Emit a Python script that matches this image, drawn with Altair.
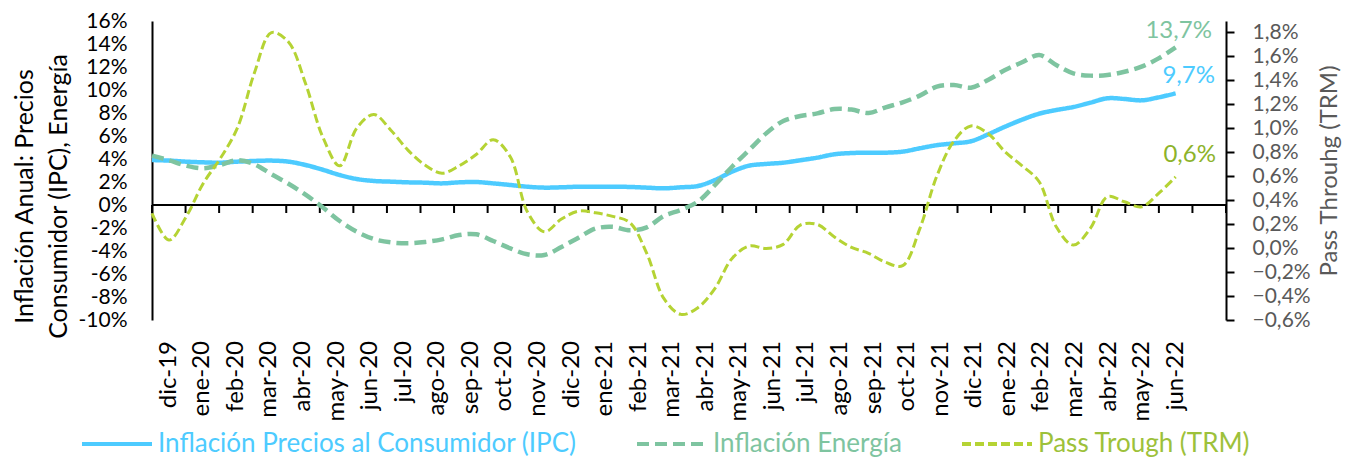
import altair as alt
import numpy as np
import pandas as pd

months = ['dic-19', 'ene-20', 'feb-20', 'mar-20', 'abr-20', 'may-20', 'jun-20', 'jul-20',
          'ago-20', 'sep-20', 'oct-20', 'nov-20', 'dic-20', 'ene-21', 'feb-21', 'mar-21',
          'abr-21', 'may-21', 'jun-21', 'jul-21', 'ago-21', 'sep-21', 'oct-21', 'nov-21',
          'dic-21', 'ene-22', 'feb-22', 'mar-22', 'abr-22', 'may-22', 'jun-22']

# half-month readings (%), left axis
ipc = [3.91, 3.86, 3.77, 3.71, 3.68, 3.77, 3.83, 3.86, 3.77, 3.48,
       3.07, 2.61, 2.26, 2.09, 2.03, 1.97, 1.94, 1.88, 1.97, 2.00,
       1.88, 1.74, 1.59, 1.51, 1.54, 1.59, 1.59, 1.59, 1.57, 1.51,
       1.45, 1.54, 1.65, 2.17, 2.90, 3.42, 3.57, 3.68, 3.89, 4.12,
       4.41, 4.52, 4.55, 4.55, 4.64, 4.93, 5.20, 5.36, 5.54, 6.14,
       6.81, 7.42, 7.94, 8.26, 8.52, 8.90, 9.28, 9.22, 9.10, 9.36,
       9.71]
energia = [4.29, 3.89, 3.42, 3.19, 3.48, 3.89, 3.54, 2.67, 1.85, 0.90,
           -0.20, -1.39, -2.32, -2.96, -3.25, -3.33, -3.22, -2.99, -2.61, -2.55,
           -3.13, -3.77, -4.29, -4.35, -3.65, -2.84, -2.05, -1.90, -2.20, -1.95,
           -0.95, -0.43, 0.29, 1.74, 3.33, 4.78, 6.23, 7.30, 7.74, 7.97,
           8.35, 8.30, 8.00, 8.49, 8.93, 9.51, 10.29, 10.43, 10.20, 10.87,
           11.74, 12.41, 13.04, 12.17, 11.45, 11.25, 11.30, 11.59, 12.03, 12.75,
           13.70]
# half-month readings (%), right axis
pass_trm = [0.29, 0.067, 0.261, 0.539, 0.747, 1.00, 1.46, 1.797, 1.719, 1.372,
            0.93, 0.686, 1.00, 1.114, 0.983, 0.817, 0.692, 0.625, 0.686, 0.781,
            0.903, 0.761, 0.303, 0.136, 0.242, 0.308, 0.294, 0.264, 0.214, -0.044,
            -0.42, -0.553, -0.497, -0.336, -0.086, 0.017, -0.003, 0.031, 0.192, 0.197,
            0.092, 0.006, -0.044, -0.119, -0.147, 0.16, 0.60, 0.892, 1.019, 0.956,
            0.803, 0.686, 0.553, 0.178, 0.025, 0.164, 0.428, 0.386, 0.344, 0.456,
            0.594]

SERIES = ["Inflación Precios al Consumidor (IPC)", "Inflación Energía", "Pass Trough (TRM)"]
COLORS = ["#4DCBFF", "#7EC4A0", "#B5D334"]
DASHES = [[1, 0], [12, 6], [9, 4]]
LABEL_COLORS = ["#4DCBFF", "#7EC4A0", "#9DC13A"]

left_ticks = list(range(-10, 17, 2))
right_ticks = [round(-0.6 + 0.2 * i, 1) for i in range(13)]

n_bands = len(months) + 1
n_pts = len(ipc)
span = len(months) - 0.5
pos = np.arange(n_pts) * span / (n_pts - 1)


def frame(vals, name):
    df = pd.DataFrame({"pos": pos, "valor": vals, "serie": name})
    df["etiqueta"] = ""
    last = df.index[-1]
    df.loc[last, "etiqueta"] = f"{vals[-1]:.1f}".replace(".", ",") + "%"
    return df


df_ipc = frame(ipc, SERIES[0])
df_en = frame(energia, SERIES[1])
df_pt = frame(pass_trm, SERIES[2])
df_months = pd.DataFrame({"pos": np.arange(len(months)) + 0.5, "mes": months,
                          "valor": left_ticks[0]})
df_bounds = pd.DataFrame({"pos": np.arange(n_bands + 1), "valor": 0})
df_zero = pd.DataFrame({"pos": [0], "x1": [n_bands], "valor": [0]})

FONT = "Lato"
x_scale = alt.Scale(domain=[0, n_bands], nice=False, zero=False)
yl_scale = alt.Scale(domain=[-10, 16], nice=False, zero=False)
yr_scale = alt.Scale(domain=[-0.6, 1.894], nice=False, zero=False)

label_color_expr = " : ".join(
    f"datum.value == '{s}' ? '{c}'" for s, c in zip(SERIES[:-1], LABEL_COLORS[:-1])
) + f" : '{LABEL_COLORS[-1]}'"

legend = alt.Legend(
    title=None, orient="none", legendX=-72, legendY=386, direction="horizontal",
    symbolType="stroke", symbolSize=4900, symbolStrokeWidth=4,
    labelFontSize=26, labelFont=FONT, labelOffset=4, labelLimit=800,
    columnPadding=52, labelColor={"expr": label_color_expr},
)
color_enc = alt.Color("serie:N", scale=alt.Scale(domain=SERIES, range=COLORS), legend=legend)
dash_enc = alt.StrokeDash("serie:N", scale=alt.Scale(domain=SERIES, range=DASHES), legend=legend)

left_axis = alt.Axis(
    values=left_ticks, labelExpr="datum.value + '%'", labelFontSize=21, labelColor="black",
    ticks=False, tickSize=0, labelPadding=25, domainColor="black", domainWidth=2, grid=False,
    labelOverlap=False, labelFlush=False,
    title=["Inflación Anual: Precios", "Consumidor (IPC), Energía"],
    titleFontSize=25, titleFontWeight="normal", titleColor="black", titleAngle=270,
    titleLineHeight=34, titleX=-140, titleY=175, titleAlign="center", titleBaseline="top",
)
right_axis = alt.Axis(
    values=right_ticks, labelExpr="replace(format(datum.value, '.1f'), '.', ',') + '%'",
    labelFontSize=21, labelColor="#595959", ticks=True, tickSize=8, tickWidth=2,
    tickColor="black", labelPadding=18, domainColor="black", domainWidth=2, grid=False,
    labelOverlap=False, labelFlush=False,
    title="Pass Throuhg (TRM)", titleFontSize=24, titleFontWeight="normal",
    titleColor="#595959", titleAngle=270, titleX=103, titleAlign="center",
    titleBaseline="middle",
)

X = alt.X("pos:Q", scale=x_scale, axis=None)
YL = alt.Y("valor:Q", scale=yl_scale, axis=left_axis)
YR = alt.Y("valor:Q", scale=yr_scale, axis=right_axis)

zero_rule = alt.Chart(df_zero).mark_rule(color="black", strokeWidth=2).encode(
    x=X, x2="x1:Q", y=YL,
)
zero_ticks = alt.Chart(df_bounds).mark_tick(
    orient="vertical", size=8, thickness=2, yOffset=4, color="black", opacity=1
).encode(x=X, y=YL)
month_txt = alt.Chart(df_months).mark_text(
    angle=270, align="right", baseline="middle", fontSize=24, color="black", yOffset=21
).encode(x=X, y=YL, text="mes:N")

ipc_line = alt.Chart(df_ipc).mark_line(strokeWidth=4.5, interpolate="catmull-rom").encode(
    x=X, y=YL, color=color_enc, strokeDash=dash_enc,
)
en_line = alt.Chart(df_en).mark_line(strokeWidth=4.5, interpolate="catmull-rom").encode(
    x=X, y=YL, color=color_enc, strokeDash=dash_enc,
)
ipc_txt = alt.Chart(df_ipc).mark_text(
    fontSize=24, color="#4DCBFF", dx=13, dy=-17, align="center", baseline="middle"
).encode(x=X, y=YL, text="etiqueta:N")
en_txt = alt.Chart(df_en).mark_text(
    fontSize=24, color="#7EC4A0", dx=3, dy=-16, align="center", baseline="middle"
).encode(x=X, y=YL, text="etiqueta:N")

pt_line = alt.Chart(df_pt).mark_line(strokeWidth=3, interpolate="catmull-rom").encode(
    x=X, y=YR, color=color_enc, strokeDash=dash_enc,
)
pt_txt = alt.Chart(df_pt).mark_text(
    fontSize=24, color="#8DB32A", dx=14, dy=-22, align="center", baseline="middle"
).encode(x=X, y=YR, text="etiqueta:N")

left = alt.layer(zero_rule, zero_ticks, month_txt, ipc_line, en_line, ipc_txt, en_txt)
right = alt.layer(pt_line, pt_txt)

chart = (
    alt.layer(left, right)
    .resolve_scale(y="independent")
    .properties(
        width=1074, height=299,
        autosize=alt.AutoSizeParams(type="none"),
        padding={"left": 144, "top": 13, "right": 118, "bottom": 138},
    )
    .configure(font=FONT)
    .configure_view(stroke=None)
)

chart.save("out.html", embed_options={"renderer": "svg", "actions": False})
